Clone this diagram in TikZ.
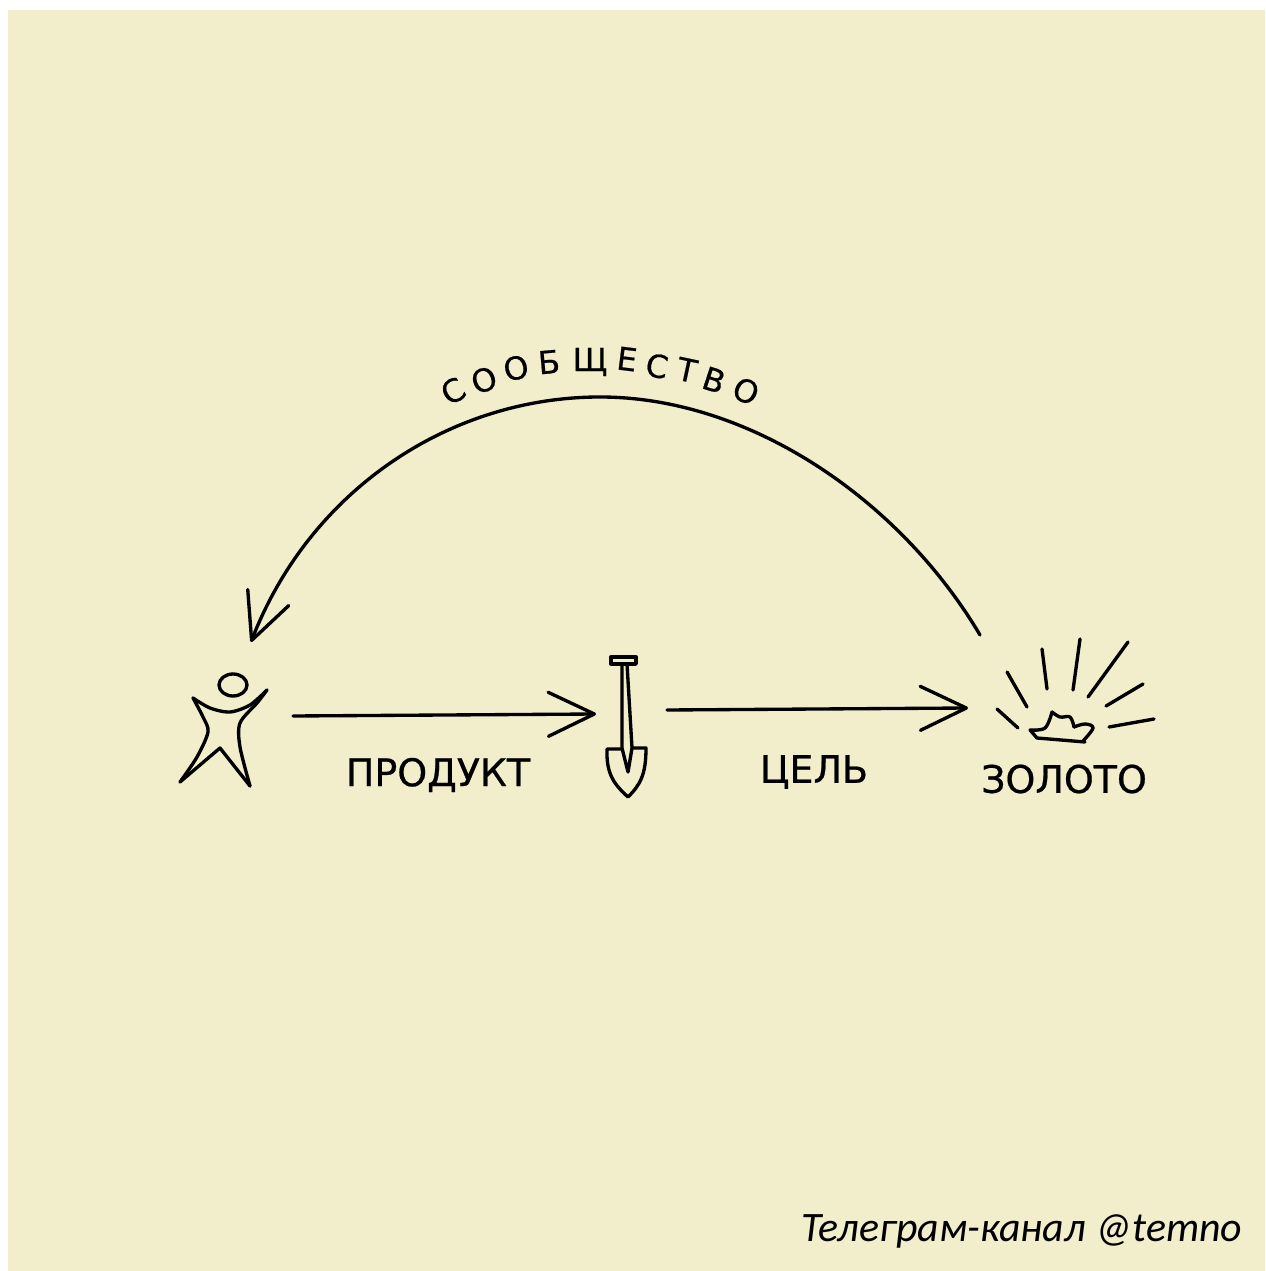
\documentclass[tikz,border=0pt]{standalone}
\usepackage{fontspec}
\newfontfamily\handfont[FakeBold=0.6]{DejaVu Sans}
\newfontfamily\capfont{Carlito}
\usetikzlibrary{arrows.meta}
\definecolor{paper}{HTML}{F2EDCB}
\tikzset{
  ink/.style={line width=0.95pt, line cap=round, line join=round},
  hand/.style={ink, -{Straight Barb[length=4.6mm, width=4.4mm, round]}},
  word/.style={inner sep=0pt, font=\handfont\fontsize{10.8}{12}\selectfont},
  arcword/.style={inner sep=0pt, font=\handfont\fontsize{9}{10}\selectfont}
}
\begin{document}
\begin{tikzpicture}[x=0.01cm, y=-0.01cm]
\useasboundingbox (0,0) rectangle (1265,1271);
\fill[white] (0,0) rectangle (1265,1271);
\fill[paper] (8,10) rectangle (1265,1271);
% person
\draw[ink] (233,685) ellipse (14 and 11);
\draw[ink] plot[smooth] coordinates {(193,698) (210,708) (230,712) (250,705) (267,690)};
\draw[ink] plot[smooth] coordinates {(267,690) (257,703) (240,723) (240,747) (250,786)};
\draw[ink] (250,786) -- (220,748) -- (180,782);
\draw[ink] plot[smooth] coordinates {(180,782) (197,757) (208,732) (203,717) (193,698)};
% shovel
\draw[ink] (611,657) rectangle (636,664);
\draw[ink] (622,664) -- (622,748) -- (628,772) -- (632,748) -- (627,664);
\draw[ink] (622,749) -- (607,749) .. controls (606,775) and (615,785) .. (628,797)
  .. controls (640,785) and (646,775) .. (646,748) -- (632,748);
% gold
\draw[ink] plot[smooth, tension=0.6] coordinates {(1030,730) (1045,728) (1052,712)};
\draw[ink] plot[smooth, tension=0.6] coordinates {(1052,712) (1060,717) (1070,717) (1074,727)};
\draw[ink] plot[smooth, tension=0.6] coordinates {(1074,727) (1085,724) (1093,728) (1083,741)};
\draw[ink] (1085,742) -- (1037,738) -- (1030,730);
\foreach \xa/\ya/\xb/\yb in {997/709/1018/728, 1007/672/1027/707, 1042/649/1047/689,
    1080/639/1073/690, 1128/642/1088/697, 1143/684/1106/706, 1154/719/1109/727}
  \draw[ink] (\xa,\ya) -- (\xb,\yb);
% ends of the arrows
\coordinate (person) at (293,716);
\coordinate (shovel) at (596,714);
\coordinate (handle) at (667,710);
\coordinate (gold) at (968,708);
\coordinate (sun) at (980,635);
\coordinate (head) at (251,642);
\draw[hand] (person) -- (shovel);
\draw[hand] (handle) -- (gold);
\draw[hand] (sun) .. controls (900,500) and (750,397) .. (600,397)
  .. controls (450,397) and (310,490) .. (head);
% labels
\node[word] (product) at (438,775) {ПРОДУКТ};
\node[word] (goal) at (814,772) {ЦЕЛЬ};
\node[word] (ore) at (1064,779) {ЗОЛОТО};
\foreach \ch/\px/\py/\rot [count=\i] in {С/453/391/30, О/484/380/20, О/516/368/12, Б/549/362/5, Щ/590/362/0,
    Е/627/359/-7, С/657/366/-10, Т/687/370/-12, В/714/380/-18, О/746/391/-25}
  \node[arcword, rotate=\rot] (letter\i) at (\px,\py) {\ch};
\node[inner sep=0pt, anchor=east, font=\capfont\itshape\fontsize{11.9}{15}\selectfont] (channel) at (1243,1231) {Телеграм-канал @temno};
\end{tikzpicture}
\end{document}
